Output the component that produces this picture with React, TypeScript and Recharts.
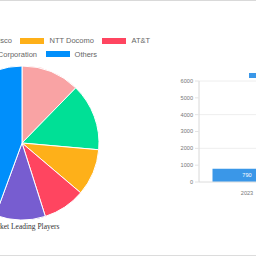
import React from "react";
import {
  Bar,
  BarChart,
  CartesianGrid,
  Cell,
  LabelList,
  Pie,
  PieChart,
  XAxis,
  YAxis,
} from "recharts";

// market share by player (%)
const players = ["Ericsson", "Cisco", "NTT Docomo", "AT&T", "NEC Corporation", "Others"];
const shares = [12.3, 14.1, 9.8, 8.9, 10.5, 44.4];
const playerColors = ["#f9a3a4", "#00e096", "#feb019", "#ff4560", "#775dd0", "#008ffb"];

// market size by year
const years = ["2023", "2024", "2025", "2026", "2027", "2028", "2029", "2030", "2031", "2032", "2033"];
const sizes = [790, 960, 1150, 1390, 1670, 2010, 2420, 2910, 3500, 4210, 5070];
const sizeTicks = [0, 1000, 2000, 3000, 4000, 5000, 6000];
const sizeSeries = "Market Size (USD Million)";

const pieData = players.map((name, i) => ({ name, value: shares[i] }));
const barData = years.map((year, i) => ({ year, value: sizes[i] }));
const legendRows = [players.slice(0, 4), players.slice(4)];

const sans = "'Liberation Sans', Arial, sans-serif";

export default function App() {
  return (
    <div
      style={{
        position: "fixed",
        left: 0,
        top: 0,
        width: 256,
        height: 256,
        overflow: "hidden",
        background: "#fff",
      }}
    >
      <div style={{ position: "absolute", left: 0, top: 0, width: 256, height: 1, background: "#d9d9d9" }} />
      <div style={{ position: "absolute", left: 0, top: 255, width: 256, height: 1, background: "#dcdcdc" }} />

      <div style={{ position: "absolute", left: -128, top: -7 }}>
        <PieChart width={300} height={300} margin={{ top: 0, right: 0, bottom: 0, left: 0 }}>
          <Pie
            data={pieData}
            dataKey="value"
            nameKey="name"
            cx={150}
            cy={150}
            outerRadius={77}
            startAngle={90}
            endAngle={-270}
            stroke="#fff"
            strokeWidth={1}
            isAnimationActive={false}
          >
            {pieData.map((entry, index) => (
              <Cell key={`cell-${index}`} fill={playerColors[index]} />
            ))}
          </Pie>
        </PieChart>
      </div>

      <div style={{ position: "absolute", left: -126, top: 34, width: 300, fontFamily: sans, fontSize: 7.5, color: "#666" }}>
        {legendRows.map((row, r) => (
          <div key={r} style={{ display: "flex", justifyContent: "center", height: 13.5, alignItems: "center" }}>
            {row.map((name) => {
              const i = players.indexOf(name);
              return (
                <div key={name} style={{ display: "flex", alignItems: "center", margin: "0 4.25px", whiteSpace: "nowrap" }}>
                  <span style={{ display: "inline-block", width: 24, height: 6, background: playerColors[i], marginRight: 5 }} />
                  <span>{name}</span>
                </div>
              );
            })}
          </div>
        ))}
      </div>

      <div
        style={{
          position: "absolute",
          left: -126.5,
          top: 222,
          width: 300,
          textAlign: "center",
          fontFamily: "'Liberation Serif'",
          fontSize: 7.5,
          lineHeight: "10px",
          color: "#333",
          whiteSpace: "nowrap",
        }}
      >
        Market Leading Players
      </div>

      <div style={{ position: "absolute", left: 249, top: 72, display: "flex", alignItems: "center", fontFamily: sans, fontSize: 5.6, color: "#666", whiteSpace: "nowrap" }}>
        <span style={{ display: "inline-block", width: 16, height: 5, background: "#3a97e8", marginRight: 3 }} />
        <span>{sizeSeries}</span>
      </div>

      <div style={{ position: "absolute", left: 150, top: 60 }}>
        <BarChart width={1105} height={142} data={barData} margin={{ top: 21, right: 0, bottom: 0, left: 0 }} barCategoryGap={13.5}>
          <CartesianGrid vertical={false} stroke="#eeeeee" />
          <XAxis
            dataKey="year"
            height={20}
            axisLine={{ stroke: "#e4e4e4" }}
            tickLine={false}
            tickMargin={3}
            tick={{ fontSize: 5.6, fill: "#777", fontFamily: sans }}
          />
          <YAxis
            width={49}
            domain={[0, 6000]}
            ticks={sizeTicks}
            axisLine={{ stroke: "#d8d8d8" }}
            tickLine={{ stroke: "#e4e4e4" }}
            tickSize={4}
            tickMargin={2}
            tick={{ fontSize: 5.6, fill: "#777", fontFamily: sans }}
          />
          <Bar dataKey="value" name={sizeSeries} fill="#3a97e8" isAnimationActive={false}>
            <LabelList dataKey="value" position="center" fill="#fff" fontSize={5.6} fontFamily={sans} />
          </Bar>
        </BarChart>
      </div>
    </div>
  );
}
